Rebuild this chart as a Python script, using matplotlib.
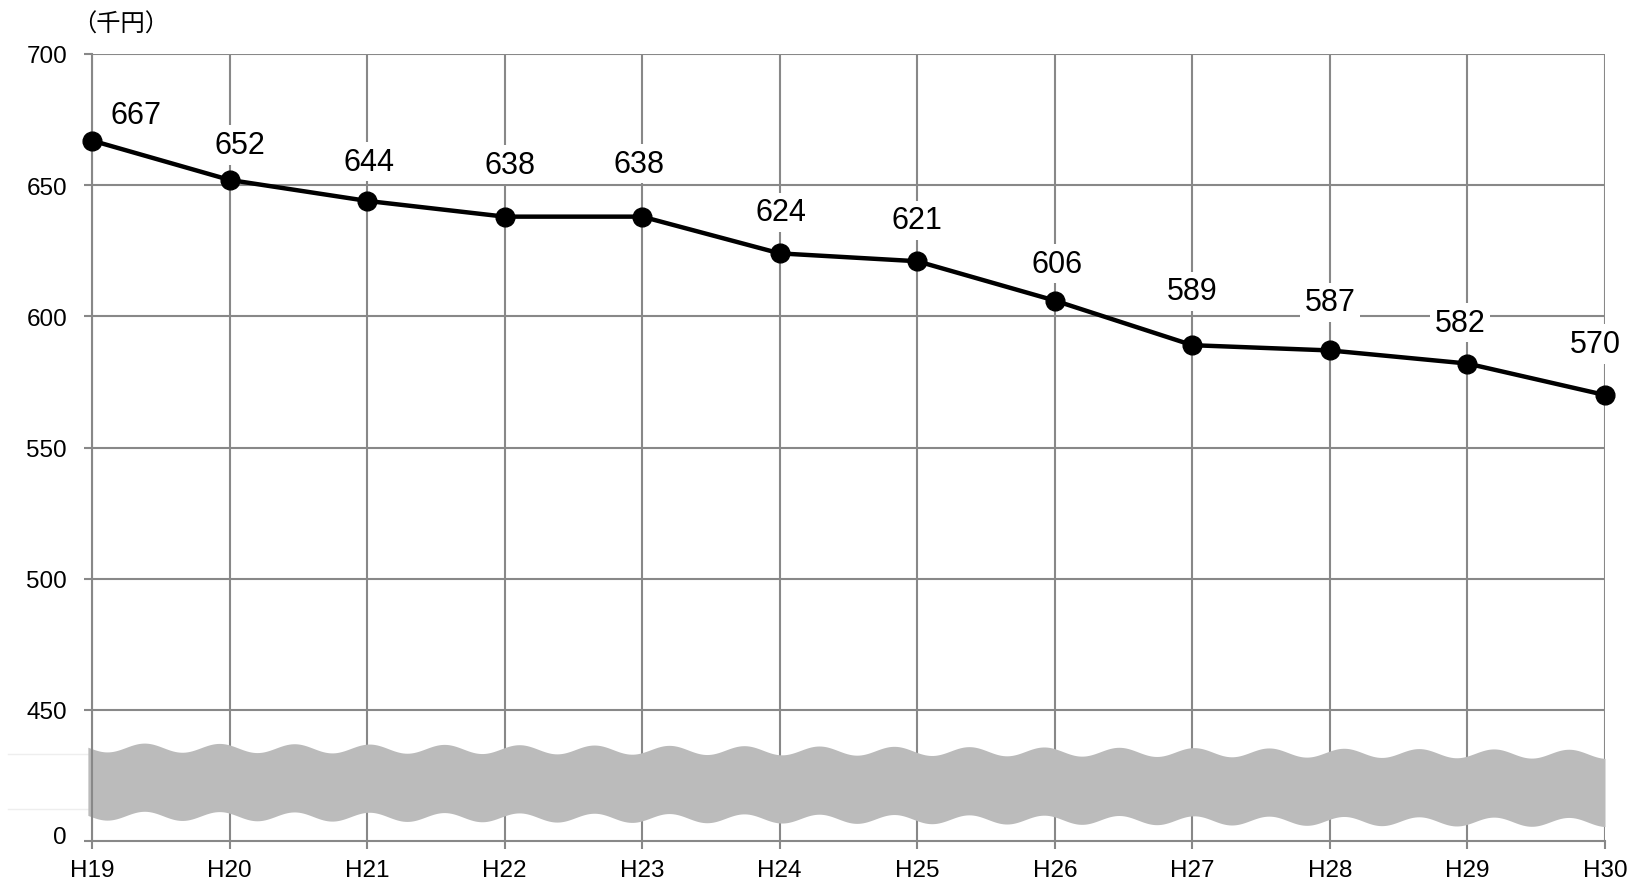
import numpy as np
import matplotlib
matplotlib.use("Agg")
import matplotlib.pyplot as plt
from matplotlib.transforms import ScaledTranslation

# ---- data ----
years = ["H19", "H20", "H21", "H22", "H23", "H24", "H25", "H26", "H27", "H28", "H29", "H30"]
values = [667, 652, 644, 638, 638, 624, 621, 606, 589, 587, 582, 570]
ytick_values = [400, 450, 500, 550, 600, 650, 700]
ytick_labels = ["0", "450", "500", "550", "600", "650", "700"]
unit_label = "（千円）"

# label offsets in pixels (dx, dy) – layout only
label_dx = [44, 10, 2, 5, -3, 1, 0, 2, 0, 0, -7, -10]
label_dy = [26, 35, 39, 52, 53, 41, 41, 37, 54, 48, 41, 51]

plt.rcParams['font.family'] = ['Liberation Sans', 'Noto Sans CJK JP', 'DejaVu Sans']

W, H = 1637, 887
fig = plt.figure(figsize=(W / 100, H / 100), dpi=100)
left, right = 92 / W, 1605 / W
top, bottom = 1 - 55 / H, 1 - 842 / H
ax = fig.add_axes([left, bottom, right - left, top - bottom])

x = np.arange(len(years))
ax.set_xlim(0, len(years) - 1)
ax.set_ylim(400, 700)

grid_c = '#888888'
for yv in ytick_values[1:]:
    ax.axhline(yv, color=grid_c, lw=1.5, zorder=1)
for xv in x:
    ax.axvline(xv, color=grid_c, lw=1.5, zorder=1)

for s in ['top', 'right']:
    ax.spines[s].set_visible(False)
for s in ['left', 'bottom']:
    ax.spines[s].set_color(grid_c)
    ax.spines[s].set_linewidth(1.5)

ax.set_xticks(x)
ax.set_xticklabels(years, fontsize=17.5)
ax.set_yticks(ytick_values)
ax.set_yticklabels(ytick_labels, fontsize=17.5)
ax.tick_params(axis='both', colors=grid_c, labelcolor='black', width=1.5, length=6)
ax.tick_params(axis='x', pad=7)
ax.tick_params(axis='y', pad=12)
# the "0" label sits slightly above the axis line
zero_lbl = ax.get_yticklabels()[0]
zero_lbl.set_transform(zero_lbl.get_transform() + ScaledTranslation(0, 6 / 100, fig.dpi_scale_trans))

# wavy axis-break band (decoration)
px_per_unit = 131 / 50.0
xs = np.linspace(-0.03, len(years) - 1, 800)
period = 75 / 137.6
phase = 0.109
wave = 4.5 / px_per_unit * np.cos(2 * np.pi * (xs - phase) / period)
frac = (xs - xs[0]) / (xs[-1] - xs[0])
top_c = 435.7 - frac * 2.5
bot_c = 409.7 - frac * 2.5
ax.fill_between(xs, bot_c - wave, top_c - wave, color='#bbbbbb', lw=0, zorder=2, clip_on=False)
for yv in [450 - (754 - 710) / px_per_unit, 450 - (809 - 710) / px_per_unit]:
    ax.plot([-0.61, -0.03], [yv, yv], color='#eeeeee', lw=1, clip_on=False, zorder=0)

# line and markers
ax.plot(x, values, color='black', lw=3.2, marker='o', markersize=13.5, zorder=4, clip_on=False)

for xi, v, dx, dy in zip(x, values, label_dx, label_dy):
    ax.annotate(str(v), (xi, v), xytext=(dx, dy), textcoords='offset pixels',
                ha='center', va='center', fontsize=22, zorder=5,
                bbox=dict(boxstyle='square,pad=0.15', fc='white', ec='none'))

fig.text(72 / W, 1 - 25 / H, unit_label, fontsize=17.5, ha='left', va='center',
         family=['Noto Sans CJK JP', 'DejaVu Sans'])

fig.savefig('out.png', dpi=100)
